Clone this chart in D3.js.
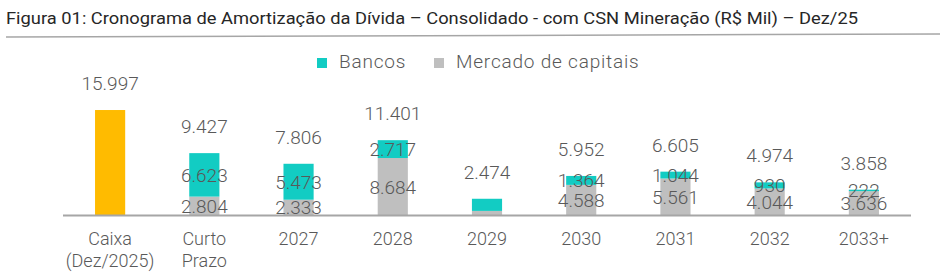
<!DOCTYPE html>
<html>
<head>
<meta charset="utf-8">
<script src="https://cdn.jsdelivr.net/npm/d3@7"></script>
<style>
  body { margin: 0; background: #fff; }
  text { font-family: Roboto, "Noto Sans", sans-serif; }
</style>
</head>
<body>
<div id="chart"></div>
<script>
// Categories and values (R$ Mil)
var categories = ['Caixa|(Dez/2025)', 'Curto|Prazo', '2027', '2028', '2029', '2030', '2031', '2032', '2033+'];
var caixa = [15997, 0, 0, 0, 0, 0, 0, 0, 0];
var bancos = [0, 6623, 5473, 2717, 1850, 1364, 1044, 930, 222];
var mercado = [0, 2804, 2333, 8684, 624, 4588, 5561, 4044, 3636];
var totais = [15997, 9427, 7806, 11401, 2474, 5952, 6605, 4974, 3858];
var showSegLabels = [false, true, true, true, false, true, true, true, true];

var fmt = function(v) { return d3.format(',')(v).replace(/,/g, '.'); };

var svg = d3.select('#chart')
  .append('svg')
  .attr('width', 945)
  .attr('height', 280);

// Title
svg.append('text')
  .attr('x', 6)
  .attr('y', 24)
  .attr('textLength', 852)
  .attr('lengthAdjust', 'spacingAndGlyphs')
  .style('font-size', '17px')
  .style('fill', '#262626')
  .text('Figura 01: Cronograma de Amortização da Dívida – Consolidado - com CSN Mineração  (R$ Mil) – Dez/25');

svg.append('line')
  .attr('x1', 6).attr('y1', 37)
  .attr('x2', 940).attr('y2', 34)
  .attr('stroke', '#a6a6a6')
  .attr('stroke-width', 1.5);

// Scales
var x = d3.scaleBand()
  .domain(categories)
  .range([63, 911])
  .paddingInner(0.68)
  .paddingOuter(0.34);

var y = d3.scaleLinear()
  .domain([0, 16000])
  .range([215, 110]);

var colors = { caixa: '#ffbb00', bancos: '#12ccc3', mercado: '#bfbfbf' };

var rows = categories.map(function(c, i) {
  return { cat: c, caixa: caixa[i], bancos: bancos[i], mercado: mercado[i], total: totais[i], seg: showSegLabels[i] };
});

// Caixa bar
svg.selectAll('.bar-caixa')
  .data(rows.filter(function(d) { return d.caixa > 0; }))
  .enter()
  .append('rect')
  .attr('x', function(d) { return x(d.cat); })
  .attr('width', x.bandwidth())
  .attr('y', function(d) { return y(d.caixa); })
  .attr('height', function(d) { return y(0) - y(d.caixa); })
  .attr('fill', colors.caixa);

// Stacked debt bars
var stack = d3.stack().keys(['mercado', 'bancos'])(rows.filter(function(d) { return d.caixa === 0; }));

svg.selectAll('.layer')
  .data(stack)
  .enter()
  .append('g')
  .attr('fill', function(s) { return colors[s.key]; })
  .selectAll('rect')
  .data(function(s) { return s; })
  .enter()
  .append('rect')
  .attr('x', function(d) { return x(d.data.cat); })
  .attr('width', x.bandwidth())
  .attr('y', function(d) { return y(d[1]); })
  .attr('height', function(d) { return y(d[0]) - y(d[1]); });

// Axis line
svg.append('line')
  .attr('x1', 63).attr('x2', 911)
  .attr('y1', y(0) + 0.5).attr('y2', y(0) + 0.5)
  .attr('stroke', '#a6a6a6')
  .attr('stroke-width', 2);

var labelStyle = function(sel) {
  sel.attr('text-anchor', 'middle')
    .style('font-size', '19px')
    .style('font-weight', 300)
    .style('fill', '#595959');
};

// Segment labels (overlaps kept as in the original)
stack.forEach(function(s) {
  svg.selectAll('.seg-' + s.key)
    .data(s.filter(function(d) { return d.data.seg; }))
    .enter()
    .append('text')
    .attr('x', function(d) { return x(d.data.cat) + x.bandwidth() / 2; })
    .attr('y', function(d) { return (y(d[0]) + y(d[1])) / 2 + 7; })
    .call(labelStyle)
    .text(function(d) { return fmt(d.data[s.key]); });
});

// Total labels
svg.selectAll('.total')
  .data(rows)
  .enter()
  .append('text')
  .attr('x', function(d) { return x(d.cat) + x.bandwidth() / 2; })
  .attr('y', function(d) { return y(d.total) - 20; })
  .call(labelStyle)
  .text(function(d) { return fmt(d.total); });

// Category labels
svg.selectAll('.cat')
  .data(categories)
  .enter()
  .append('text')
  .attr('x', function(d) { return x(d) + x.bandwidth() / 2; })
  .attr('y', 245)
  .attr('text-anchor', 'middle')
  .style('font-size', '18px')
  .style('font-weight', 300)
  .style('fill', '#595959')
  .each(function(d) {
    var parts = d.split('|');
    var t = d3.select(this);
    parts.forEach(function(p, i) {
      t.append('tspan')
        .attr('x', x(d) + x.bandwidth() / 2)
        .attr('dy', i === 0 ? 0 : 22)
        .text(p);
    });
  });

// Legend
var legend = [
  { name: 'Bancos', color: colors.bancos, x: 317 },
  { name: 'Mercado de capitais', color: colors.mercado, x: 434 }
];
var lg = svg.selectAll('.legend')
  .data(legend)
  .enter()
  .append('g')
  .attr('transform', function(d) { return 'translate(' + d.x + ',58)'; });
lg.append('rect')
  .attr('width', 10)
  .attr('height', 10)
  .attr('fill', function(d) { return d.color; });
lg.append('text')
  .attr('x', 22)
  .attr('y', 10)
  .style('font-size', '19px')
  .style('font-weight', 300)
  .style('letter-spacing', '0.8px')
  .style('fill', '#595959')
  .text(function(d) { return d.name; });
</script>
</body>
</html>
